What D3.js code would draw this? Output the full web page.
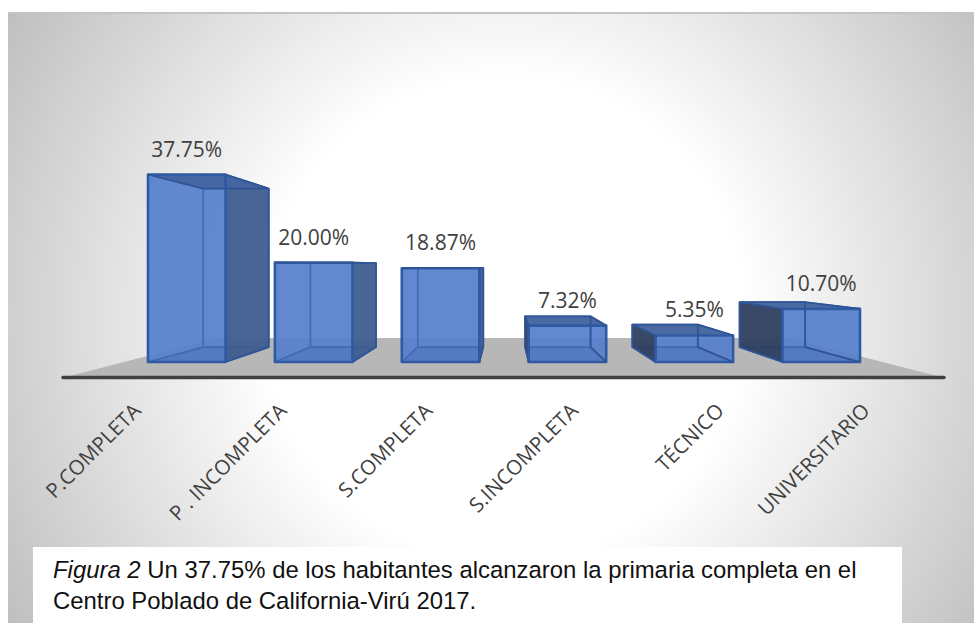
<!DOCTYPE html>
<html><head><meta charset="utf-8">
<style>html,body{margin:0;padding:0;background:#fff}svg{display:block}</style>
<script src="https://cdn.jsdelivr.net/npm/d3@7"></script></head>
<body><svg id="c" width="974" height="623"></svg>
<script>
const categories=["P.COMPLETA","P . INCOMPLETA","S.COMPLETA","S.INCOMPLETA","TÉCNICO","UNIVERSITARIO"];
const values=[37.75,20.00,18.87,7.32,5.35,10.70];
const valueLabels=["37.75%","20.00%","18.87%","7.32%","5.35%","10.70%"];
const captionLines=[["Figura 2"," Un 37.75% de los habitantes alcanzaron la primaria completa en el"],["","Centro Poblado de California-Virú 2017."]];

const svg=d3.select("#c");
const defs=svg.append("defs");
const g=defs.append("radialGradient").attr("id","bg").attr("gradientUnits","userSpaceOnUse")
 .attr("cx",505).attr("cy",318).attr("r",583);
g.append("stop").attr("offset",0.41).attr("stop-color","#ffffff");
g.append("stop").attr("offset",1).attr("stop-color","#bfbfbf");
svg.append("rect").attr("x",8).attr("y",13).attr("width",966).attr("height",610).attr("fill","url(#bg)");
svg.append("rect").attr("x",8).attr("y",12).attr("width",966).attr("height",2).attr("fill","#c4c4c4");

// floor
const floor=[[62,378],[217,338],[789,338],[945,378]];
svg.append("polygon").attr("points",floor.join(" ")).attr("fill","#b7b7b7");

// scales
const x=d3.scaleBand().domain(categories).range([148,860]).paddingInner(0.389).paddingOuter(0);
const y=d3.scaleLinear().domain([0,37.75]).range([362,174.5]);
const catX=d3.scalePoint().domain(categories).range([137,866]);
const vp=[505,265.6],k=0.8455;
const back=([px,py])=>[vp[0]+(px-vp[0])*k,vp[1]+(py-vp[1])*k];

const gBars=svg.append("g");
categories.forEach((c,i)=>{
  const x0=x(c),x1=x0+x.bandwidth(),yb=y(0),yt=y(values[i]);
  const F=[[x0,yt],[x1,yt],[x1,yb],[x0,yb]];
  const B=F.map(back);
  const face=(pts,fc,op)=>gBars.append("polygon").attr("points",pts.join(" ")).attr("fill",fc).attr("fill-opacity",op);
  const line=(d,col,w)=>gBars.append("path").attr("d",d).attr("fill","none").attr("stroke",col).attr("stroke-width",w).attr("stroke-linejoin","round");
  // silhouette slivers beyond the front face
  if(F[0][0]<=vp[0]&&B[0][0]<F[0][0]) face([F[0],B[0],B[3],F[3]],"#4d72b4",1);
  if(F[1][0]>=vp[0]&&B[1][0]>F[1][0]) face([F[1],B[1],B[2],F[2]],"#4d72b4",1);
  // front face, nearly opaque so the floor edge only just shows through
  face(F,"#5680cb",0.93);
  // bottom face seen through the front
  face([B[3],B[2],F[2],F[3]],"#3f68b0",0.3);
  // back edges seen through
  line(`M${F[0]}L${B[0]}L${B[3]}L${F[3]}M${B[0]}L${B[1]}L${B[2]}L${B[3]}M${B[2]}L${F[2]}M${B[1]}L${F[1]}`,"#4169b3",1.6);
  // dark outer side faces and the top face sit over the see-through parts
  if(F[0][0]>vp[0]) face([F[0],B[0],B[3],F[3]],"#2f3f60",0.95);
  if(F[1][0]<vp[0]) face([F[1],B[1],B[2],F[2]],"#3f5d8f",0.95);
  face([F[0],F[1],B[1],B[0]],"#44659f",0.97);
  // front edges
  line(`M${F[0]}L${F[1]}L${F[2]}L${F[3]}Z`,"#2f5aa3",2.6);
  line(`M${F[0]}L${B[0]}L${B[1]}L${F[1]}`,"#2f5597",1.8);
  line(`M${B[1]}L${B[2]}L${F[2]}`,"#2f5597",1.8);
  if(F[0][0]>vp[0]) line(`M${B[0]}L${B[3]}L${F[3]}`,"#2f5597",1.8);
});

// base line
svg.append("line").attr("x1",63).attr("x2",944).attr("y1",377.5).attr("y2",377.5).attr("stroke","#404040").attr("stroke-width",3.4).attr("stroke-linecap","round");

// data labels
const font="'Open Sans',sans-serif";
categories.forEach((c,i)=>{
  svg.append("text").attr("x",x(c)+x.bandwidth()/2).attr("y",y(values[i])-18)
   .attr("text-anchor","middle").attr("font-family",font).attr("font-size",21).attr("fill","#404040").text(valueLabels[i]);
});

// category labels
categories.forEach((c,i)=>{
  svg.append("text").attr("transform",`translate(${catX(c)},407) rotate(-45)`)
   .attr("text-anchor","end").attr("dy","0.35em").attr("font-family",font).attr("font-size",20.5).attr("fill","#404040").text(c);
});

// caption
svg.append("rect").attr("x",33).attr("y",547).attr("width",869).attr("height",76).attr("fill","#fff");
const cap=svg.append("g").attr("font-family","'Liberation Sans',Arial,sans-serif").attr("font-size",23.9).attr("fill","#111");
captionLines.forEach((l,i)=>{
  const t=cap.append("text").attr("x",53).attr("y",578+i*31);
  if(l[0]) t.append("tspan").attr("font-style","italic").text(l[0]);
  t.append("tspan").text(l[1]);
});
</script></body></html>
